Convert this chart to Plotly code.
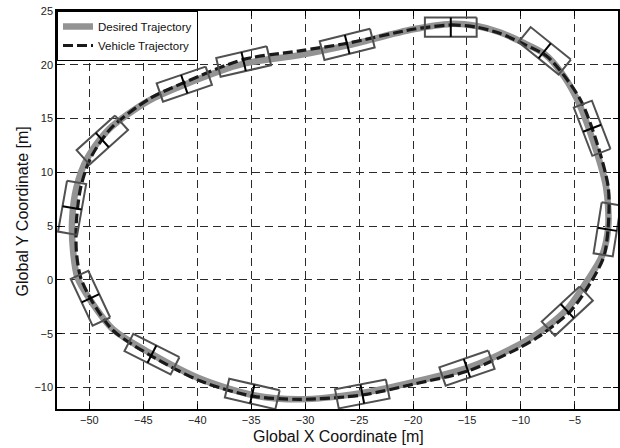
import math
import plotly.graph_objects as go

# Desired trajectory (closed loop)
desired_x = [-20.0, -16.5, -14.1, -11.9, -9.9, -7.8, -6.2, -4.8, -3.3, -2.1, -1.9, -2.5, -3.8, -5.7,
             -8.2, -10.7, -15.0, -20.0, -24.7, -30.5, -34.9, -39.7, -44.2, -47.8, -49.9, -51.1,
             -51.5, -51.6, -51.2, -50.2, -48.2, -44.6, -41.3, -35.7, -30.5, -26.1, -20.0]
desired_y = [23.3, 23.8, 23.6, 23.0, 22.1, 21.0, 19.2, 16.8, 12.9, 8.6, 5.0, 2.2, 0.0, -2.7,
             -4.8, -6.3, -8.2, -9.5, -10.5, -11.1, -10.7, -9.2, -6.9, -4.6, -1.9, 0.2,
             2.6, 5.5, 8.6, 11.3, 14.0, 16.6, 18.1, 20.1, 20.9, 21.8, 23.3]

# Vehicle trajectory
vehicle_x = [-20.0, -16.5, -14.1, -11.9, -9.9, -7.6, -6.0, -4.4, -3.0, -1.9, -1.9, -2.3, -3.5, -5.4,
             -8.4, -10.5, -15.0, -20.0, -24.7, -30.5, -34.9, -39.7, -44.2, -47.8, -49.8, -50.8,
             -51.2, -51.2, -50.8, -49.9, -48.0, -44.5, -41.1, -35.7, -30.5, -26.1, -20.0]
vehicle_y = [23.3, 23.7, 23.5, 22.9, 22.0, 20.8, 19.0, 16.6, 12.9, 8.6, 5.0, 2.2, -0.2, -2.9,
             -5.3, -6.5, -8.5, -9.7, -10.7, -11.1, -10.8, -9.4, -7.1, -4.7, -1.9, 0.2,
             2.6, 5.5, 8.6, 11.3, 14.1, 16.8, 18.4, 20.5, 21.3, 22.0, 23.3]

# Vehicle outlines: centre and heading (deg)
box_x = [-16.5, -7.8, -3.4, -2.0, -5.7, -15.0, -24.7, -34.9, -44.2, -49.9, -51.6, -48.8, -41.2, -35.7, -26.1]
box_y = [23.5, 21.3, 14.1, 4.7, -2.9, -8.2, -10.6, -10.6, -6.9, -1.7, 6.7, 13.0, 18.2, 20.3, 21.9]
box_heading = [0, -39, -69, 81, 43, 19, 11, -13, -27, -65, 80, 42, 19, 13, 14]
car_length = 4.8
car_width = 1.8

x_ticks = [-50, -45, -40, -35, -30, -25, -20, -15, -10, -5]
y_ticks = [-10, -5, 0, 5, 10, 15, 20, 25]

rect_x, rect_y, cross_x, cross_y = [], [], [], []
for cx, cy, h in zip(box_x, box_y, box_heading):
    a = math.radians(h)
    ux, uy = math.cos(a), math.sin(a)
    vx, vy = -uy, ux
    hl, hw = car_length / 2, car_width / 2
    corners = [(hl, hw), (-hl, hw), (-hl, -hw), (hl, -hw), (hl, hw)]
    for p, q in corners:
        rect_x.append(cx + p * ux + q * vx)
        rect_y.append(cy + p * uy + q * vy)
    rect_x.append(None)
    rect_y.append(None)
    cross_x += [cx + hw * vx, cx - hw * vx, None]
    cross_y += [cy + hw * vy, cy - hw * vy, None]

fig = go.Figure()
fig.add_trace(go.Scatter(x=desired_x, y=desired_y, mode="lines", name="Desired Trajectory",
                         line=dict(color="#939393", width=6.5, shape="spline", smoothing=0.8)))
fig.add_trace(go.Scatter(x=vehicle_x, y=vehicle_y, mode="lines", name="Vehicle Trajectory",
                         line=dict(color="#1a1a1a", width=3.2, dash="10px,4px", shape="spline", smoothing=0.8)))
fig.add_trace(go.Scatter(x=rect_x, y=rect_y, mode="lines", showlegend=False, hoverinfo="skip",
                         line=dict(color="#505050", width=2)))
fig.add_trace(go.Scatter(x=cross_x, y=cross_y, mode="lines", showlegend=False, hoverinfo="skip",
                         line=dict(color="#000000", width=2)))

axis_common = dict(showgrid=True, gridcolor="#2a2a2a", griddash="8px,5px", gridwidth=1,
                   showline=True, linecolor="black", linewidth=1.5, mirror="ticks",
                   ticks="inside", ticklen=5, tickcolor="black", zeroline=False,
                   automargin=False, tickfont=dict(size=11, color="#222222"))
fig.update_xaxes(range=[-53, -1], tickvals=x_ticks, **axis_common)
fig.update_yaxes(range=[-12, 25], tickvals=y_ticks, **axis_common)
fig.add_annotation(text="Global X Coordinate [m]", xref="paper", yref="paper", x=0.501, y=-0.07,
                   xanchor="center", yanchor="middle", showarrow=False, font=dict(size=16, color="#111"))
fig.add_annotation(text="Global Y Coordinate [m]", xref="paper", yref="paper", x=-0.062, y=0.497,
                   xanchor="center", yanchor="middle", textangle=-90, showarrow=False,
                   font=dict(size=16, color="#111"))
fig.update_layout(width=620, height=448, margin=dict(l=57, r=2, t=11, b=39),
                  plot_bgcolor="white", paper_bgcolor="white",
                  font=dict(family="Arial, Liberation Sans, sans-serif", color="#111"),
                  legend=dict(x=0, y=1, xanchor="left", yanchor="top", bgcolor="white",
                              bordercolor="black", borderwidth=1, font=dict(size=11.5),
                              tracegroupgap=0, itemwidth=30))
fig.write_html("out.html", config={"displayModeBar": False},
               post_script="document.body.style.margin='0px';document.body.style.overflow='hidden';")
